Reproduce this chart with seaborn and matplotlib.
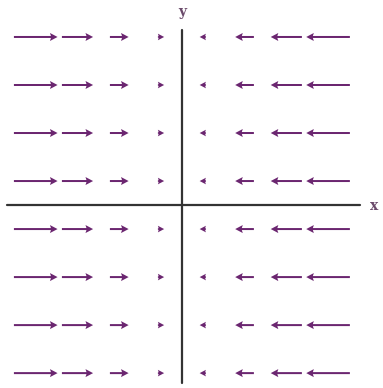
import matplotlib
matplotlib.use('Agg')
import matplotlib.pyplot as plt
import seaborn as sns
import numpy as np
import pandas as pd

sns.set_style('white')

# grid of sample points (data units)
x_points = [-3.5, -2.5, -1.5, -0.5, 0.5, 1.5, 2.5, 3.5]
y_points = [-3.5, -2.5, -1.5, -0.5, 0.5, 1.5, 2.5, 3.5]
# field F(x, y) = (-x, 0)
x_comp = [3.5, 2.5, 1.5, 0.5, -0.5, -1.5, -2.5, -3.5]
y_comp = [0, 0, 0, 0, 0, 0, 0, 0]

rows = []
for j, y in enumerate(y_points):
    for i, x in enumerate(x_points):
        rows.append({'x': x, 'y': y, 'u': x_comp[i], 'v': y_comp[i]})
df = pd.DataFrame(rows)

fig = plt.figure(figsize=(3.83, 3.88), dpi=100)
ax = fig.add_axes([0, 0, 1, 1])
ax.set_xlim(-3.79, 4.19)
ax.set_ylim(-3.81, 4.27)
ax.axis('off')

# coordinate axes
ax.plot([-3.65, 3.72], [0, 0], color='#333333', linewidth=1.6)
ax.plot([0, 0], [-3.7, 3.65], color='#333333', linewidth=1.6)

ax.quiver(df['x'], df['y'], df['u'], df['v'], pivot='tail',
          angles='xy', scale_units='xy', scale=3.85,
          units='dots', width=2.0, headwidth=4.0, headlength=3.8,
          headaxislength=3.3, color='#6b2670')

ax.text(4.0, -0.02, 'x', fontsize=10, color='#6b4a6b', family='DejaVu Serif',
        fontweight='bold', ha='center', va='center')
ax.text(0.0, 4.02, 'y', fontsize=10, color='#6b4a6b', family='DejaVu Serif',
        fontweight='bold', ha='center', va='center')

plt.savefig('out.png', dpi=100)
